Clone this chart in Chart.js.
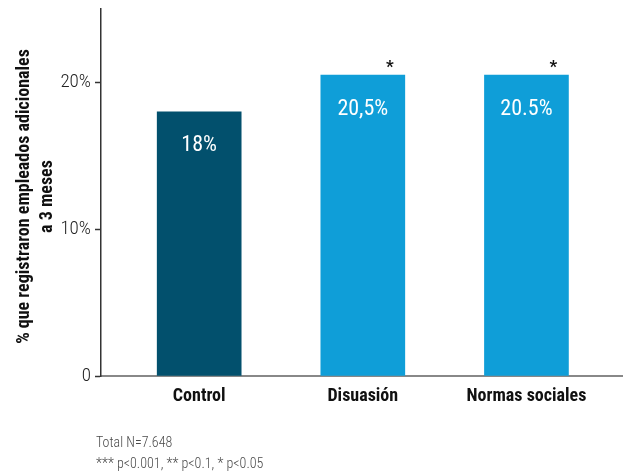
<!DOCTYPE html>
<html>
<head>
<meta charset="utf-8">
<script src="https://cdn.jsdelivr.net/npm/chart.js@4.4.1/dist/chart.umd.min.js"></script>
<style>
  html, body { margin: 0; padding: 0; background: #fff; }
  #wrap { position: relative; width: 623px; height: 472px; }
</style>
</head>
<body>
<div id="wrap"><canvas id="c" width="623" height="472"></canvas></div>
<script>
// Share of firms that registered additional employees after 3 months
const categories = ['Control', 'Disuasión', 'Normas sociales'];
const values = [18, 20.5, 20.5];
const valueLabels = ['18%', '20,5%', '20.5%'];
const significance = ['', '*', '*'];
const barColors = ['#02506d', '#0f9ed8', '#0f9ed8'];
const yTicks = [0, 10, 20];
const yTickLabels = ['0', '10%', '20%'];
const yTitle = ['% que registraron empleados adicionales', 'a 3 meses'];
const footnotes = ['Total N=7.648', '*** p<0.001, ** p<0.1, * p<0.05'];

const FONT = "'Roboto Condensed', 'DejaVu Sans Condensed', Roboto, sans-serif";

const annotations = {
  id: 'annotations',
  afterDatasetsDraw(chart) {
    const ctx = chart.ctx;
    const meta = chart.getDatasetMeta(0);
    ctx.save();
    meta.data.forEach((bar, i) => {
      ctx.textAlign = 'center';
      ctx.textBaseline = 'middle';
      ctx.fillStyle = '#ffffff';
      ctx.font = "400 22px " + FONT;
      ctx.fillText(valueLabels[i], bar.x, bar.y + 34);
      if (significance[i]) {
        ctx.fillStyle = '#111111';
        ctx.font = "bold 17px " + FONT;
        ctx.fillText(significance[i], bar.x + 27, bar.y - 7);
      }
    });
    ctx.restore();
  },
  afterDraw(chart) {
    const ctx = chart.ctx;
    const area = chart.chartArea;
    ctx.save();
    // rotated axis title, both lines centred on the plot height
    ctx.translate(0, (area.top + area.bottom) / 2 + 4);
    ctx.rotate(-Math.PI / 2);
    ctx.fillStyle = '#111111';
    ctx.font = "bold 18px " + FONT;
    ctx.textAlign = 'center';
    ctx.textBaseline = 'middle';
    ctx.fillText(yTitle[0], 0, 24);
    ctx.fillText(yTitle[1], 0, 47);
    ctx.restore();

    ctx.save();
    ctx.fillStyle = '#4a4a4a';
    ctx.font = "300 14px " + FONT;
    ctx.textAlign = 'left';
    ctx.textBaseline = 'alphabetic';
    ctx.fillText(footnotes[0], 96, 447);
    ctx.fillText(footnotes[1], 96, 468);
    ctx.restore();
  }
};

new Chart(document.getElementById('c'), {
  type: 'bar',
  data: {
    datasets: [{
      data: values.map((v, i) => ({ x: i, y: v })),
      backgroundColor: barColors,
      barThickness: 84,
      borderWidth: 0
    }]
  },
  options: {
    responsive: false,
    animation: false,
    layout: { padding: { top: 9, right: 0, bottom: 56, left: 0 } },
    plugins: { legend: { display: false }, tooltip: { enabled: false } },
    scales: {
      x: {
        type: 'linear',
        offset: false,
        min: -0.6,
        max: 2.59,
        afterFit(scale) { scale.height = 40; scale.paddingLeft = 0; scale.paddingRight = 0; },
        afterBuildTicks(scale) { scale.ticks = categories.map((_, i) => ({ value: i })); },
        ticks: {
          autoSkip: false,
          maxRotation: 0,
          padding: 10,
          color: '#111111',
          font: { family: FONT, size: 18, weight: 'bold' },
          callback: (v) => categories[v]
        },
        grid: { display: false, drawTicks: false },
        border: { display: true, color: '#888888', width: 2 }
      },
      y: {
        min: 0,
        max: 25,
        afterFit(scale) { scale.width = 101; scale.paddingTop = 0; scale.paddingBottom = 0; },
        afterBuildTicks(scale) { scale.ticks = yTicks.map(v => ({ value: v })); },
        ticks: {
          padding: 4,
          color: '#222222',
          font: { family: FONT, size: 19, weight: 300 },
          callback: (v) => yTickLabels[yTicks.indexOf(v)]
        },
        grid: { drawOnChartArea: false, drawTicks: true, tickLength: 6, tickColor: '#333333', tickWidth: 1.5 },
        border: { display: true, color: '#333333', width: 1.5 }
      }
    }
  },
  plugins: [annotations]
});
</script>
</body>
</html>
